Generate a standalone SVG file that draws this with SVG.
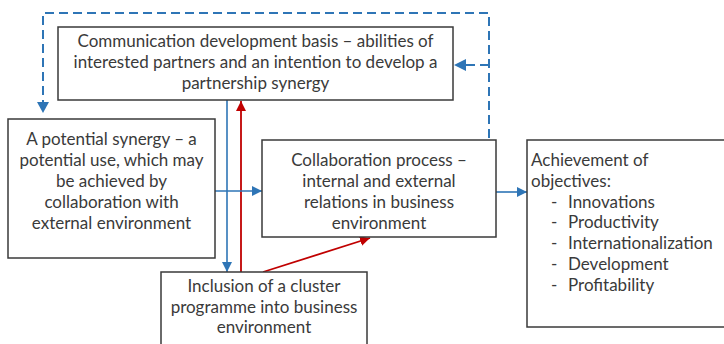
<svg xmlns="http://www.w3.org/2000/svg" width="724" height="344" viewBox="0 0 724 344">
<defs>
<style>
.box{fill:#fff;stroke:#3a3a3a;stroke-width:1.5}
text{font-family:Lato,"Open Sans",sans-serif;font-size:17px;fill:#3a3a3a}
.c{text-anchor:middle}
.blue{stroke:#2e75b6;stroke-width:1.6;fill:none}
.red{stroke:#c00000;stroke-width:1.8;fill:none}
.dash{stroke:#2e75b6;stroke-width:2;fill:none;stroke-dasharray:9 5}
</style>
<marker id="ab" viewBox="0 0 10 10" refX="10" refY="5" markerWidth="10" markerHeight="10" markerUnits="userSpaceOnUse" orient="auto"><path d="M0,0L10,5L0,10z" fill="#2e75b6"/></marker>
<marker id="ar" viewBox="0 0 10 10" refX="10" refY="5" markerWidth="10" markerHeight="10" markerUnits="userSpaceOnUse" orient="auto"><path d="M0,0L10,5L0,10z" fill="#c00000"/></marker>
</defs>
<rect width="724" height="344" fill="#fff"/>
<g id="connectors">
<path class="dash" d="M489,138V13H43V104"/>
<path class="dash" d="M489,65H464"/>
<path d="M454,65l12,-6v12z" fill="#2e75b6"/>
<path d="M43,113l-6,-11h12z" fill="#2e75b6"/>
<line class="blue" x1="227" y1="100" x2="227" y2="272" marker-end="url(#ab)"/>
<line class="red" x1="241" y1="272" x2="241" y2="101" marker-end="url(#ar)"/>
<line class="red" x1="263" y1="272" x2="370" y2="238" marker-end="url(#ar)"/>
<line class="blue" x1="215" y1="191" x2="262" y2="191" marker-end="url(#ab)"/>
<line class="blue" x1="496" y1="192" x2="527" y2="192" marker-end="url(#ab)"/>
</g>
<g id="node-communication">
<rect class="box" x="58" y="27" width="395" height="73"/>
<text class="c" x="255.5" y="47">Communication development basis – abilities of</text>
<text class="c" x="255.5" y="68">interested partners and an intention to develop a</text>
<text class="c" x="255.5" y="89">partnership synergy</text>
</g>
<g id="node-potential">
<rect class="box" x="8" y="119" width="207" height="139"/>
<text class="c" x="111.5" y="145">A potential synergy – a</text>
<text class="c" x="111.5" y="166">potential use, which may</text>
<text class="c" x="111.5" y="187">be achieved by</text>
<text class="c" x="111.5" y="208">collaboration with</text>
<text class="c" x="111.5" y="229">external environment</text>
</g>
<g id="node-collaboration">
<rect class="box" x="262" y="140" width="234" height="97"/>
<text class="c" x="379" y="166">Collaboration process –</text>
<text class="c" x="379" y="187">internal and external</text>
<text class="c" x="379" y="208">relations in business</text>
<text class="c" x="379" y="229">environment</text>
</g>
<g id="node-inclusion">
<rect class="box" x="161" y="272" width="206" height="80"/>
<text class="c" x="264" y="292">Inclusion of a cluster</text>
<text class="c" x="264" y="313">programme into business</text>
<text class="c" x="264" y="333">environment</text>
</g>
<g id="node-achievement">
<rect class="box" x="527" y="140" width="210" height="187"/>
<text x="531" y="166">Achievement of</text>
<text x="531" y="187">objectives:</text>
<text x="551" y="208">-</text><text x="568" y="208">Innovations</text>
<text x="551" y="228">-</text><text x="568" y="228">Productivity</text>
<text x="551" y="249">-</text><text x="568" y="249">Internationalization</text>
<text x="551" y="270">-</text><text x="568" y="270">Development</text>
<text x="551" y="291">-</text><text x="568" y="291">Profitability</text>
</g>
</svg>
